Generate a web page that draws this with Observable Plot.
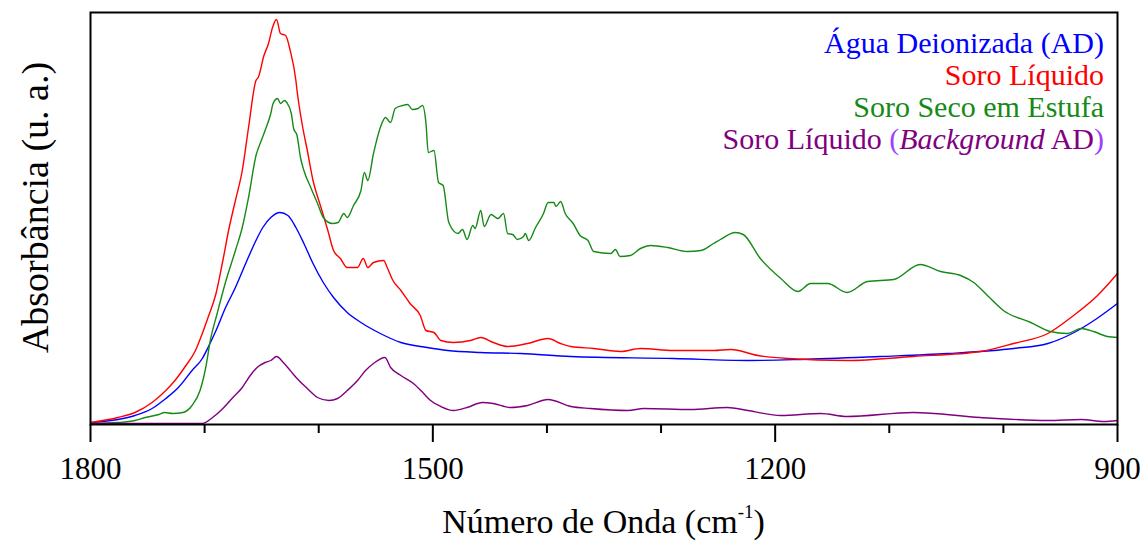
<!DOCTYPE html>
<html>
<head>
<meta charset="utf-8">
<script src="https://cdn.jsdelivr.net/npm/d3@7"></script>
<script src="https://cdn.jsdelivr.net/npm/@observablehq/plot@0.6"></script>
<style>
  html, body { margin: 0; padding: 0; background: #fff; }
  #chart { position: relative; width: 1144px; height: 541px; font-family: "Liberation Serif", serif; color: #000; }
  #chart svg { display: block; }
  #legend { position: absolute; right: 40px; top: 27px; text-align: right; font-size: 30px; line-height: 32px; white-space: nowrap; }
  #legend .par { color: #a040ff; }
  #xtitle { position: absolute; left: 90px; width: 1027px; top: 505px; text-align: center; font-size: 34px; line-height: 34px; white-space: nowrap; }
  #xtitle .sup { font-size: 19px; position: relative; top: -15px; }
</style>
</head>
<body>
<div id="chart"></div>
<script>
// FTIR spectra, wavenumber (cm-1) and absorbance (arbitrary units)
const seriesNames = ["Água Deionizada (AD)", "Soro Líquido", "Soro Seco em Estufa", "Soro Líquido (Background AD)"];
const seriesColors = ["#0000ff", "#ff0000", "#168a16", "#800080"];

const aguaDeionizada = [
  [1799,0.005],[1776,0.0125],[1761,0.0225],[1746,0.04],[1734,0.065],[1723,0.0925],[1711,0.135],[1702,0.165],
  [1697,0.1925],[1690,0.235],[1682,0.29],[1673,0.3425],[1664,0.4025],[1655,0.46],[1649,0.4925],[1642,0.5175],
  [1634,0.53],[1627,0.5225],[1620,0.4925],[1613,0.4525],[1605,0.4025],[1596,0.355],[1587,0.3175],[1575,0.28],
  [1563,0.255],[1546,0.2275],[1528,0.205],[1505,0.1925],[1487,0.185],[1458,0.18],[1423,0.1775],[1379,0.17],
  [1289,0.165],[1224,0.16],[1178,0.1625],[1108,0.17],[1049,0.1775],[991,0.19],[961,0.2025],[938,0.23],
  [918,0.265],[900,0.3025]
];

const soroLiquido = [
  [1799,0.005],[1776,0.0175],[1761,0.03],[1746,0.055],[1734,0.085],[1726,0.11],[1717,0.145],[1708,0.185],
  [1702,0.2275],[1697,0.2675],[1690,0.3275],[1684,0.41],[1679,0.485],[1673,0.56],[1667,0.635],[1661.5,0.7425],
  [1655,0.86],[1653,0.8675],[1648,0.9225],[1644,0.9525],[1640.5,0.9925],[1637,1.0125],[1633.5,0.9775],[1629,0.9725],
  [1625,0.935],[1620,0.86],[1619,0.835],[1614,0.7425],[1610,0.685],[1605,0.61],[1598,0.5425],[1592,0.485],
  [1587,0.435],[1581,0.415],[1575,0.3925],[1570,0.3925],[1566,0.3925],[1561,0.415],[1557,0.3925],[1552,0.405],
  [1543,0.41],[1540,0.3925],[1535,0.36],[1528,0.335],[1520,0.3025],[1511,0.2725],[1506,0.235],[1499,0.23],
  [1493,0.21],[1482,0.205],[1467,0.21],[1458,0.2175],[1447,0.205],[1434.5,0.195],[1417,0.2025],[1399,0.215],
  [1388,0.2025],[1379,0.195],[1359,0.19],[1335.5,0.1825],[1318,0.19],[1289,0.185],[1254,0.185],[1239,0.1875],
  [1215,0.1725],[1189,0.165],[1137,0.16],[1079,0.17],[1020,0.1825],[991,0.2025],[961,0.2275],[938.5,0.2725],
  [917.5,0.3225],[900,0.3775]
];

const soroSeco = [
  [1799,0.0025],[1776,0.005],[1761,0.01],[1752,0.0175],[1740,0.025],[1735,0.03],[1728,0.0275],[1719,0.03],
  [1711,0.0475],[1704,0.085],[1699,0.1425],[1695,0.21],[1689,0.2775],[1682,0.3525],[1673,0.435],[1667,0.4925],
  [1661.5,0.5675],[1654.5,0.6775],[1653,0.69],[1647,0.735],[1642,0.7775],[1640,0.8025],[1636,0.815],[1633.5,0.8025],
  [1630,0.81],[1628,0.805],[1624,0.7775],[1622,0.74],[1619,0.7225],[1616,0.6675],[1613,0.635],[1607,0.5925],
  [1601,0.5525],[1596,0.5175],[1588,0.5025],[1583,0.505],[1578,0.5275],[1575,0.5175],[1569.5,0.5475],[1563,0.585],
  [1560,0.63],[1557,0.61],[1552,0.6775],[1546,0.7425],[1541.5,0.7675],[1537,0.755],[1533,0.79],[1526.5,0.7975],
  [1522,0.8],[1518,0.7875],[1513,0.79],[1509,0.7975],[1506,0.7525],[1504,0.68],[1499,0.685],[1495,0.605],
  [1491,0.5975],[1486,0.505],[1478,0.4775],[1474,0.4875],[1470,0.4625],[1465,0.4975],[1463,0.49],[1458,0.535],
  [1455,0.495],[1449,0.525],[1443,0.515],[1438,0.5275],[1434.5,0.4775],[1430,0.475],[1426,0.4625],[1420.5,0.47],
  [1419,0.4775],[1416,0.46],[1410,0.4925],[1403,0.5275],[1399,0.555],[1394,0.555],[1392,0.545],[1388,0.5575],
  [1384,0.5275],[1377,0.5025],[1371,0.4725],[1364,0.46],[1359,0.4325],[1344,0.4275],[1340,0.4375],[1336,0.42],
  [1327,0.4225],[1318,0.44],[1309,0.4475],[1294,0.4425],[1277,0.4325],[1265,0.435],[1254,0.4525],[1248,0.4625],
  [1235,0.48],[1228,0.475],[1213,0.415],[1195,0.365],[1180,0.3325],[1169,0.3525],[1154,0.3525],[1137,0.33],
  [1119,0.3575],[1096,0.3625],[1073,0.4],[1055,0.3825],[1037.5,0.3725],[1026,0.355],[1014,0.3225],[1000,0.285],
  [976,0.255],[959,0.2325],[944,0.2275],[932,0.24],[921,0.2325],[909,0.22],[900,0.2175]
];

const soroLiquidoBackground = [
  [1799,0.0025],[1747,0.0025],[1702,0.0025],[1693,0.0175],[1684,0.04],[1676,0.065],[1667,0.0925],[1660,0.1225],
  [1654,0.1425],[1647,0.155],[1642,0.16],[1637,0.17],[1631,0.155],[1625,0.135],[1619,0.115],[1610,0.09],
  [1601,0.0675],[1591,0.06],[1583.5,0.065],[1575,0.085],[1566,0.11],[1559,0.135],[1552,0.1525],[1542,0.1675],
  [1537,0.1425],[1528,0.1225],[1517,0.1025],[1508,0.0775],[1502,0.06],[1493,0.045],[1482,0.035],[1470,0.0425],
  [1456.5,0.055],[1447,0.0525],[1432,0.0425],[1417,0.0475],[1399,0.0625],[1379,0.045],[1362,0.04],[1329,0.035],
  [1315,0.04],[1274,0.0375],[1242,0.0425],[1224,0.035],[1195,0.0225],[1160,0.0275],[1137,0.02],[1079,0.03],
  [1020,0.0175],[961,0.01],[932,0.0125],[912,0.0075],[900,0.01]
];

const majorTicks = [1800, 1500, 1200, 900];
const minorTicks = [1700, 1600, 1400, 1300, 1100, 1000];
const yTitle = "Absorbância (u. a.)";
const xTitleText = "Número de Onda (cm";
const xTitleSup = "-1";

const spectra = [aguaDeionizada, soroLiquido, soroSeco, soroLiquidoBackground];
const rows = spectra.flatMap((values, i) =>
  values.map(([wn, a]) => ({serie: seriesNames[i], wn, a}))
);

const plot = Plot.plot({
  width: 1144,
  height: 496,
  marginTop: 12,
  marginBottom: 72,
  marginLeft: 90,
  marginRight: 27,
  style: {fontFamily: "Liberation Serif", color: "black", background: "white", overflow: "visible"},
  x: {domain: [1800, 900]},
  y: {domain: [0, 1.03], axis: null},
  color: {domain: seriesNames, range: seriesColors},
  marks: [
    Plot.lineY(rows, {x: "wn", y: "a", z: "serie", stroke: "serie", strokeWidth: 1.4, curve: "monotone-x"}),
    Plot.frame({stroke: "black", strokeWidth: 2}),
    Plot.axisX({ticks: minorTicks, tickSize: 9, tickFormat: () => "", strokeWidth: 2, label: null}),
    Plot.axisX({ticks: majorTicks, tickSize: 18, tickPadding: 14, fontSize: 31, strokeWidth: 2, label: null,
                tickFormat: d => String(d)}),
    Plot.text([yTitle], {frameAnchor: "left", textAnchor: "middle", rotate: -90, dx: -55, dy: -11,
                         fontSize: 38, fill: "black"})
  ]
});

const chart = document.getElementById("chart");
chart.appendChild(plot);

// legend, one line per spectrum in its own colour
const legend = document.createElement("div");
legend.id = "legend";
seriesNames.forEach((name, i) => {
  const line = document.createElement("div");
  line.style.color = seriesColors[i];
  const m = name.match(/^(.*?)\((.*)\)$/);
  if (m && /Background/.test(m[2])) {
    line.append(m[1]);
    const open = document.createElement("span"); open.className = "par"; open.textContent = "(";
    const it = document.createElement("i"); it.textContent = "Background";
    const close = document.createElement("span"); close.className = "par"; close.textContent = ")";
    line.append(open, it, m[2].replace("Background", ""), close);
  } else {
    line.textContent = name;
  }
  legend.appendChild(line);
});
chart.appendChild(legend);

// x-axis title with superscript unit exponent
const xt = document.createElement("div");
xt.id = "xtitle";
xt.append(xTitleText);
const sup = document.createElement("span"); sup.className = "sup"; sup.textContent = xTitleSup;
xt.append(sup, ")");
chart.appendChild(xt);
</script>
</body>
</html>
